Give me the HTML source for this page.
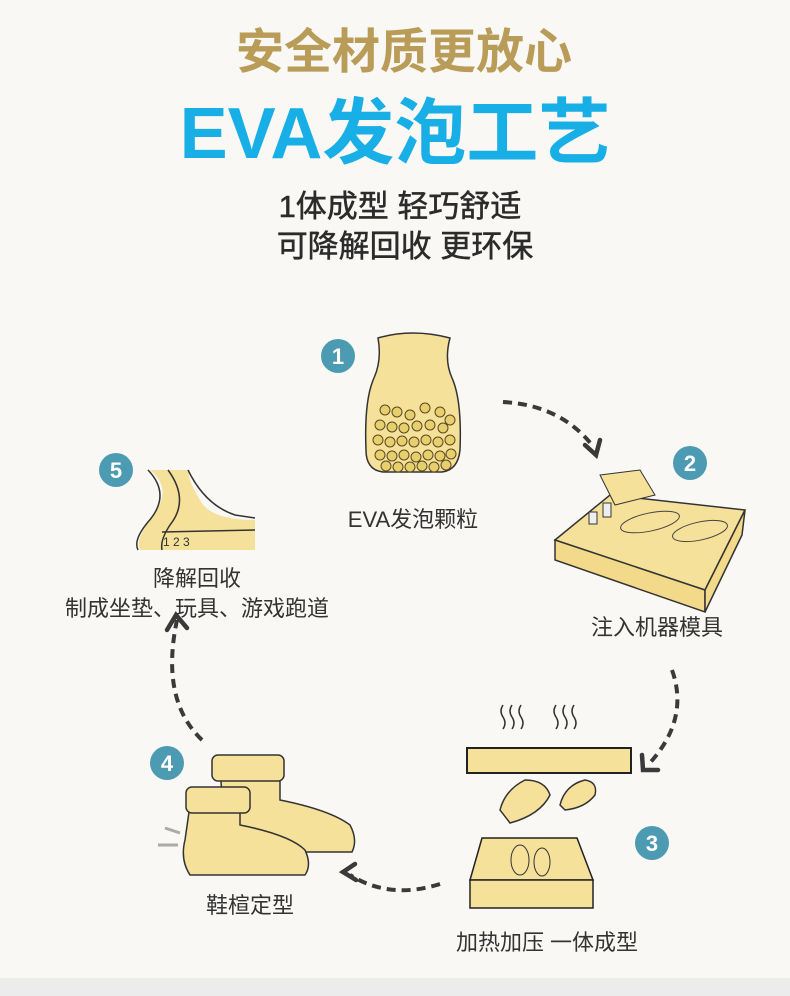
<!DOCTYPE html>
<html><head><meta charset="utf-8"><style>
html,body{margin:0;padding:0;background:#f9f8f5;}
svg{display:block}
text{font-family:"Liberation Sans","Noto Sans CJK SC",sans-serif;}
</style></head><body>
<svg width="790" height="996" viewBox="0 0 790 996" xmlns="http://www.w3.org/2000/svg">
<rect width="790" height="996" fill="#f9f8f5"/>
<rect y="978" width="790" height="18" fill="#ececec"/>
<text x="404" y="68" font-size="48" font-weight="bold" fill="#b89c58" text-anchor="middle">安全材质更放心</text>
<text x="395" y="158" font-size="72" fill="#18aee6" text-anchor="middle" font-weight="bold">EVA发泡工艺</text>
<text x="400" y="217" font-size="31" fill="#2b2b2b" text-anchor="middle" stroke="#2b2b2b" stroke-width="0.5">1体成型  轻巧舒适</text>
<text x="405" y="257" font-size="31" fill="#2b2b2b" text-anchor="middle" stroke="#2b2b2b" stroke-width="0.5">可降解回收 更环保</text>

<g fill="#4d9bb2"><circle cx="338" cy="356" r="17"/><circle cx="690" cy="463" r="17"/><circle cx="116" cy="470" r="17"/><circle cx="167" cy="763" r="17"/><circle cx="652" cy="843" r="17"/></g>
<g fill="#fff" font-size="22" font-weight="bold" text-anchor="middle"><text x="338" y="364">1</text><text x="690" y="471">2</text><text x="116" y="478">5</text><text x="167" y="771">4</text><text x="652" y="851">3</text></g>

<!-- jar -->
<path d="M378 338 Q412 328 450 338 Q444 360 452 378 Q462 400 460 450 Q458 470 442 472 L383 472 Q366 470 366 450 Q364 400 374 378 Q382 360 378 338Z" fill="#f6e19a" stroke="#333" stroke-width="1.5"/>
<g fill="#e8cf6e" stroke="#5a4a20" stroke-width="1">
<circle cx="385" cy="410" r="5"/><circle cx="397" cy="412" r="5"/><circle cx="410" cy="415" r="5"/><circle cx="425" cy="408" r="5"/><circle cx="440" cy="412" r="5"/><circle cx="450" cy="420" r="5"/>
<circle cx="380" cy="425" r="5"/><circle cx="392" cy="427" r="5"/><circle cx="404" cy="428" r="5"/><circle cx="417" cy="426" r="5"/><circle cx="430" cy="425" r="5"/><circle cx="443" cy="428" r="5"/>
<circle cx="378" cy="440" r="5"/><circle cx="390" cy="442" r="5"/><circle cx="402" cy="441" r="5"/><circle cx="414" cy="442" r="5"/><circle cx="426" cy="440" r="5"/><circle cx="438" cy="442" r="5"/><circle cx="450" cy="440" r="5"/>
<circle cx="380" cy="455" r="5"/><circle cx="392" cy="456" r="5"/><circle cx="404" cy="455" r="5"/><circle cx="416" cy="457" r="5"/><circle cx="428" cy="455" r="5"/><circle cx="440" cy="456" r="5"/><circle cx="451" cy="454" r="5"/>
<circle cx="386" cy="466" r="5"/><circle cx="398" cy="467" r="5"/><circle cx="410" cy="467" r="5"/><circle cx="422" cy="466" r="5"/><circle cx="434" cy="467" r="5"/><circle cx="446" cy="465" r="5"/></g>
<text x="413" y="527" font-size="22" fill="#333" text-anchor="middle">EVA发泡颗粒</text>

<!-- mold 2 -->
<path d="M555 540 L610 495 L745 510 L705 590 Z" fill="#f6e19a" stroke="#333" stroke-width="1.5"/>
<path d="M555 540 L555 560 L705 612 L705 590Z" fill="#f3d98a" stroke="#333" stroke-width="1.5"/>
<path d="M705 590 L745 510 L742 535 L705 612Z" fill="#f3d98a" stroke="#333" stroke-width="1.5"/>
<ellipse cx="650" cy="522" rx="30" ry="9" fill="none" stroke="#444" transform="rotate(-12 650 522)"/>
<ellipse cx="700" cy="531" rx="28" ry="9" fill="none" stroke="#444" transform="rotate(-12 700 531)"/>
<path d="M600 475 L640 470 L655 495 L615 505Z" fill="#f6e19a" stroke="#333"/>
<rect x="589" y="512" width="8" height="12" fill="#eee" stroke="#333"/><rect x="603" y="503" width="8" height="14" fill="#eee" stroke="#333"/>
<text x="657" y="635" font-size="22" fill="#333" text-anchor="middle">注入机器模具</text>

<!-- track 5 -->
<path d="M150 470 Q175 490 150 520 Q135 540 140 550 L255 550 L255 520 Q210 520 200 500 Q185 475 190 470Z" fill="#f6e19a"/>
<g fill="none" stroke="#333" stroke-width="1.5"><path d="M148 470 Q172 495 148 522 Q133 540 138 550"/><path d="M168 470 Q190 500 170 525 Q160 540 162 550"/><path d="M188 470 Q205 505 235 515 L255 518"/><path d="M162 532 L255 530"/></g>
<text x="163" y="546" font-size="12" fill="#333">1  2  3</text>
<text x="197" y="586" font-size="22" fill="#333" text-anchor="middle">降解回收</text>
<text x="197" y="616" font-size="22" fill="#333" text-anchor="middle">制成坐垫、玩具、游戏跑道</text>

<!-- press 3 -->
<rect x="467" y="748" width="164" height="25" fill="#f6e19a" stroke="#222" stroke-width="2"/>
<g fill="none" stroke="#333" stroke-width="1.5"><path d="M503 705 q-4 6 0 12 q4 6 0 12"/><path d="M512 705 q-4 6 0 12 q4 6 0 12"/><path d="M521 705 q-4 6 0 12 q4 6 0 12"/><path d="M556 705 q-4 6 0 12 q4 6 0 12"/><path d="M565 705 q-4 6 0 12 q4 6 0 12"/><path d="M574 705 q-4 6 0 12 q4 6 0 12"/></g>
<path d="M500 810 Q505 790 525 780 Q545 780 550 795 Q540 815 510 823Z" fill="#f6e19a" stroke="#333" stroke-width="1.5"/>
<path d="M560 805 Q565 785 585 780 Q598 782 595 795 Q585 808 565 810Z" fill="#f6e19a" stroke="#333" stroke-width="1.5"/>
<path d="M470 880 L482 838 L577 838 L593 880Z" fill="#f6e19a" stroke="#222" stroke-width="1.5"/>
<rect x="470" y="880" width="123" height="28" fill="#f6e19a" stroke="#222" stroke-width="1.5"/>
<ellipse cx="520" cy="860" rx="9" ry="15" fill="none" stroke="#333"/><ellipse cx="542" cy="862" rx="8" ry="14" fill="none" stroke="#333"/>
<text x="547" y="950" font-size="22" fill="#333" text-anchor="middle">加热加压 一体成型</text>

<!-- shoes 4 -->
<path d="M220 770 L280 770 L280 800 Q330 810 350 825 Q358 840 352 852 L240 852 Q225 845 225 830Z" fill="#f6e19a" stroke="#333" stroke-width="1.5"/>
<rect x="212" y="755" width="72" height="26" rx="6" fill="#f6e19a" stroke="#333" stroke-width="1.5"/>
<path d="M190 805 L240 805 L240 825 Q290 835 305 850 Q312 865 305 875 L190 875 Q180 860 185 840Z" fill="#f6e19a" stroke="#333" stroke-width="1.5"/>
<rect x="186" y="787" width="64" height="26" rx="6" fill="#f6e19a" stroke="#333" stroke-width="1.5"/>
<path d="M165 828 l15 5 M158 845 l20 0" stroke="#aaa" stroke-width="3"/>
<text x="250" y="913" font-size="22" fill="#333" text-anchor="middle">鞋楦定型</text>

<!-- dashed arrows -->
<g fill="none" stroke="#3a3a3a" stroke-width="4" stroke-dasharray="9 6">
<path d="M503 402 Q560 405 592 445"/>
<path d="M672 670 Q690 720 648 765"/>
<path d="M440 884 Q390 900 350 875"/>
<path d="M202 740 Q160 700 177 620"/>
</g>
<g fill="none" stroke="#3a3a3a" stroke-width="4.5" stroke-linecap="round">
<path d="M585 445 L596 455 L600 440"/>
<path d="M642 755 L643 770 L658 770"/>
<path d="M355 864 L343 872 L356 880"/>
<path d="M167 630 L176 615 L187 628"/>
</g>
</svg>
</body></html>
